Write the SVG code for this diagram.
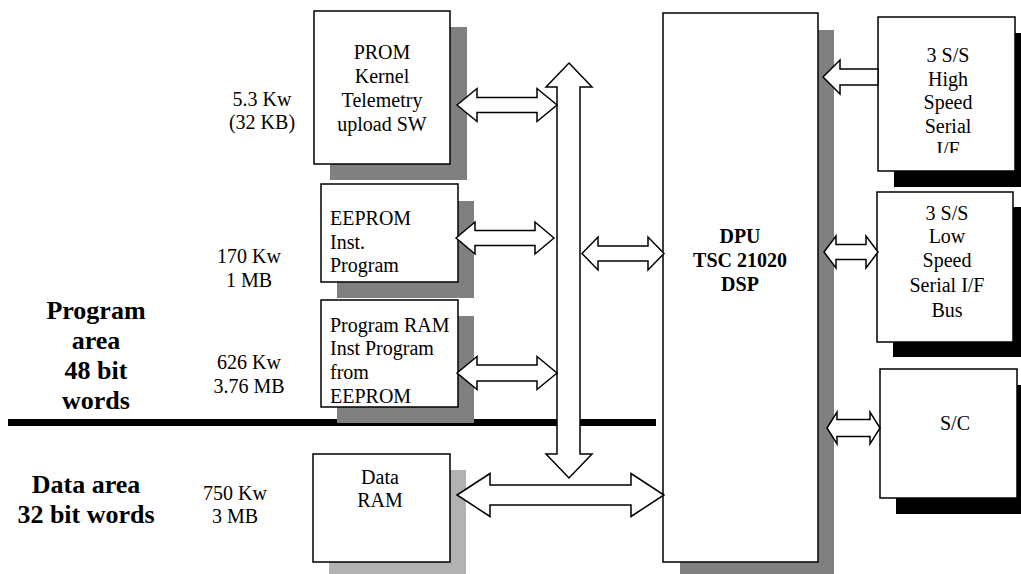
<svg xmlns="http://www.w3.org/2000/svg" width="1021" height="574" viewBox="0 0 1021 574">
<defs>
<style>
.box{fill:#fff;stroke:#000;stroke-width:1.5}
.sh{fill:#808080}
.shl{fill:#b2b2b2}
.shb{fill:#000}
.arr{fill:#fff;stroke:#000;stroke-width:1.5;stroke-linejoin:miter}
.t{font-family:'Liberation Serif','Times New Roman','DejaVu Serif',serif;font-size:20px;fill:#000}
.c{text-anchor:middle}
.b{font-weight:bold}
.big{font-size:26px;font-weight:bold;text-anchor:middle}
</style>
<clipPath id="clipIF"><rect x="870" y="0" width="151" height="153"/></clipPath>
</defs>
<rect width="1021" height="574" fill="#fff"/>
<g id="divider">
<rect x="8" y="419" width="648" height="7" fill="#000"/>
</g>
<g id="labels" class="t" font-family="Liberation Serif, serif">
<text class="c" x="262" y="106">5.3 Kw</text>
<text class="c" x="262" y="129">(32 KB)</text>
<text class="c" x="249" y="263">170 Kw</text>
<text class="c" x="249" y="287">1 MB</text>
<text class="c" x="249" y="369">626 Kw</text>
<text class="c" x="249" y="393">3.76 MB</text>
<text class="c" x="235" y="500">750 Kw</text>
<text class="c" x="235" y="523">3 MB</text>
<text class="big" x="96" y="319">Program</text>
<text class="big" x="96" y="349">area</text>
<text class="big" x="96" y="379">48 bit</text>
<text class="big" x="96" y="409">words</text>
<text class="big" x="86" y="493">Data area</text>
<text class="big" x="86" y="523">32 bit words</text>
</g>
<g id="prom" class="t" font-family="Liberation Serif, serif">
<rect class="sh" x="330" y="27" width="137" height="153"/>
<rect class="box" x="314" y="11" width="136" height="153"/>
<text class="c" x="382" y="59">PROM</text>
<text class="c" x="382" y="83">Kernel</text>
<text class="c" x="382" y="107">Telemetry</text>
<text class="c" x="382" y="131">upload SW</text>
</g>
<g id="eeprom" class="t" font-family="Liberation Serif, serif">
<rect class="sh" x="337" y="201" width="137" height="97"/>
<rect class="box" x="321" y="184" width="137" height="98"/>
<text x="330" y="225">EEPROM</text>
<text x="330" y="249">Inst.</text>
<text x="330" y="272">Program</text>
</g>
<g id="program-ram" class="t" font-family="Liberation Serif, serif">
<rect class="sh" x="337" y="316" width="137" height="107"/>
<rect class="box" x="321" y="300" width="137" height="107"/>
<text x="330" y="332">Program RAM</text>
<text x="330" y="355">Inst Program</text>
<text x="330" y="379">from</text>
<text x="330" y="403">EEPROM</text>
</g>
<g id="data-ram" class="t" font-family="Liberation Serif, serif">
<rect class="shl" x="329" y="470" width="137" height="104"/>
<rect class="box" x="313" y="454" width="137" height="108"/>
<text class="c" x="380" y="484">Data</text>
<text class="c" x="380" y="507">RAM</text>
</g>
<g id="dpu" class="t" font-family="Liberation Serif, serif">
<rect class="sh" x="680" y="30" width="154" height="544"/>
<rect class="box" x="663" y="13" width="155" height="549"/>
<text class="c b" x="740" y="243">DPU</text>
<text class="c b" x="740" y="267">TSC 21020</text>
<text class="c b" x="740" y="291">DSP</text>
</g>
<g id="high-speed" class="t" font-family="Liberation Serif, serif">
<rect class="shb" x="894" y="33" width="137" height="154"/>
<rect class="box" x="878" y="17" width="137" height="154"/>
<text class="c" x="948" y="62">3 S/S</text>
<text class="c" x="948" y="85.5">High</text>
<text class="c" x="948" y="109">Speed</text>
<text class="c" x="948" y="132.5">Serial</text>
<text class="c" x="948" y="156" clip-path="url(#clipIF)">I/F</text>
</g>
<g id="low-speed" class="t" font-family="Liberation Serif, serif">
<rect class="shb" x="893" y="207" width="137" height="150"/>
<rect class="box" x="877" y="192" width="136" height="150"/>
<text class="c" x="947" y="220">3 S/S</text>
<text class="c" x="947" y="243">Low</text>
<text class="c" x="947" y="267">Speed</text>
<text class="c" x="947" y="292">Serial I/F</text>
<text class="c" x="947" y="317">Bus</text>
</g>
<g id="sc" class="t" font-family="Liberation Serif, serif">
<rect class="shb" x="896" y="385" width="137" height="129"/>
<rect class="box" x="880" y="369" width="137" height="129"/>
<text class="c" x="955" y="430">S/C</text>
</g>
<g id="connectors">
<polygon class="arr" points="569,63 592,87 580,87 580,454 592,454 569,478 546,454 557,454 557,87 546,87"/>
<polygon class="arr" points="457,105 477,88.5 477,97.5 537,97.5 537,88.5 557,105 537,121.5 537,112.5 477,112.5 477,121.5"/>
<polygon class="arr" points="456,238 475,222 475,230.5 535,230.5 535,222 554,238 535,254 535,245.5 475,245.5 475,254"/>
<polygon class="arr" points="457,373 477,356.5 477,365 537,365 537,356.5 557,373 537,389.5 537,381 477,381 477,389.5"/>
<polygon class="arr" points="582,253.5 598,237 598,246 648,246 648,237 664,253.5 648,270 648,261 598,261 598,270"/>
<polygon class="arr" points="457,495 490,473.5 490,485 631,485 631,473.5 664,495 631,516.5 631,505 490,505 490,516.5"/>
<polygon class="arr" points="823,77 840,60 840,69 878,69 878,85 840,85 840,94"/>
<polygon class="arr" points="824,252 836,236 836,244.5 866,244.5 866,236 878,252 866,268 866,259.5 836,259.5 836,268"/>
<polygon class="arr" points="827,428 837,412 837,419.5 870,419.5 870,412 880,428 870,444 870,436.5 837,436.5 837,444"/>
</g>
</svg>
